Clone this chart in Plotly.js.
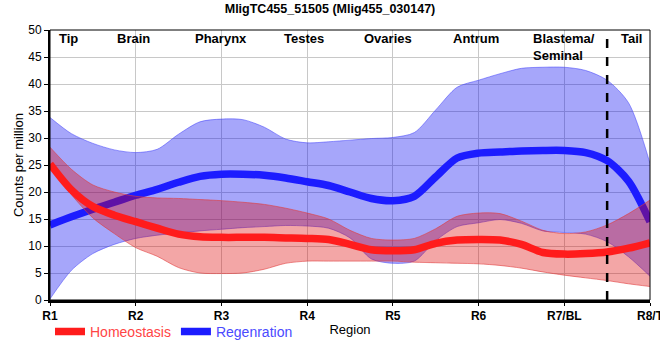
<!DOCTYPE html>
<html>
<head>
<meta charset="utf-8">
<script src="https://cdn.plot.ly/plotly-3.0.1.min.js"></script>
<style>html,body{margin:0;padding:0;background:#fff;}#chart{width:660px;height:360px;}</style>
</head>
<body>
<div id="chart"></div>
<script>
// Region tick positions and labels
const regionPos = [0, 1, 2, 3, 4, 5, 6, 7];
const regionTicks = ['R1', 'R2', 'R3', 'R4', 'R5', 'R6', 'R7/BL', 'R8/T'];
// Tissue names shown along the top
const tissueNames = ['Tip', 'Brain', 'Pharynx', 'Testes', 'Ovaries', 'Antrum', 'Blastema/<br>Seminal', 'Tail'];
const tissuePos = [0.22, 0.97, 1.99, 2.96, 3.94, 4.97, 6.0, 6.78];
const tailBoundary = 6.5;

// Sample positions along the worm (region units)
const samplePos = [0, 0.25, 0.5, 0.75, 1, 1.25, 1.5, 1.75, 2, 2.25, 2.5, 2.75, 3, 3.25, 3.5, 3.75,
                   4, 4.25, 4.5, 4.75, 5, 5.25, 5.5, 5.75, 6, 6.25, 6.5, 6.75, 7];

// Homeostasis (red)
const homeoMean  = [25.2, 20.4, 17.3, 15.7, 14.5, 13.3, 12.2, 11.7, 11.6, 11.6, 11.6, 11.5, 11.4, 11.2, 10.3, 9.3,
                    9.1, 9.3, 10.5, 11.1, 11.2, 11.1, 10.3, 8.8, 8.5, 8.6, 8.9, 9.6, 10.6];
const homeoUpper = [28.3, 24.2, 21.3, 20.0, 19.2, 18.9, 18.8, 18.6, 18.4, 18.1, 17.7, 17.0, 16.1, 15.0, 12.9, 11.4,
                    11.1, 11.4, 13.2, 15.5, 16.1, 16.0, 14.6, 12.9, 12.3, 12.6, 13.9, 16.0, 18.5];
const homeoLower = [24.8, 19.5, 15.2, 12.3, 9.7, 8.1, 6.0, 5.0, 4.9, 5.0, 5.7, 6.8, 7.2, 7.2, 7.2, 7.2,
                    7.2, 7.0, 6.9, 6.8, 6.7, 6.4, 5.9, 5.2, 4.6, 4.1, 3.6, 3.0, 2.5];

// Regeneration (blue)
const regenMean  = [13.9, 15.4, 16.8, 18.1, 19.4, 20.5, 21.8, 22.9, 23.3, 23.3, 23.1, 22.6, 21.9, 21.2, 20.0, 18.8,
                    18.4, 19.2, 22.8, 26.3, 27.2, 27.4, 27.6, 27.7, 27.7, 27.3, 25.8, 22.0, 14.5];
const regenUpper = [33.8, 30.8, 29.0, 27.8, 27.3, 27.9, 30.7, 33.0, 33.5, 33.4, 32.0, 29.8, 29.1, 29.3, 29.6, 29.9,
                    30.1, 31.0, 35.2, 39.4, 40.7, 41.9, 42.9, 43.1, 43.1, 42.5, 40.7, 36.5, 25.3];
const regenLower = [0.2, 5.5, 8.6, 10.3, 11.4, 12.0, 12.4, 12.8, 13.1, 13.4, 13.6, 13.8, 13.7, 13.3, 11.5, 7.6,
                    6.8, 7.2, 11.0, 13.6, 14.3, 14.9, 14.2, 12.8, 12.5, 12.2, 10.8, 8.0, 4.4];

const yTicks = [0, 5, 10, 15, 20, 25, 30, 35, 40, 45, 50];

const FONT = 'Liberation Sans, Arial, sans-serif';
const spl = {shape: 'spline', smoothing: 0.8};

const traces = [
  {x: samplePos, y: regenUpper, mode: 'lines', line: Object.assign({color: 'rgba(70,70,250,0.55)', width: 1}, spl),
   showlegend: false, hoverinfo: 'skip'},
  {x: samplePos, y: regenLower, mode: 'lines', fill: 'tonexty', fillcolor: 'rgba(0,0,240,0.35)',
   line: Object.assign({color: 'rgba(70,70,250,0.55)', width: 1}, spl), showlegend: false, hoverinfo: 'skip'},
  {x: samplePos, y: regenMean, mode: 'lines', name: '<span style="color:#4a4aff">Regenration</span>',
   line: Object.assign({color: '#1c1cff', width: 7.5}, spl)},
  {x: samplePos, y: homeoUpper, mode: 'lines', line: Object.assign({color: 'rgba(225,60,60,0.6)', width: 1}, spl),
   showlegend: false, hoverinfo: 'skip'},
  {x: samplePos, y: homeoLower, mode: 'lines', fill: 'tonexty', fillcolor: 'rgba(220,0,0,0.35)',
   line: Object.assign({color: 'rgba(225,60,60,0.6)', width: 1}, spl), showlegend: false, hoverinfo: 'skip'},
  {x: samplePos, y: homeoMean, mode: 'lines', name: '<span style="color:#ff4545">Homeostasis</span>',
   line: Object.assign({color: '#ff1c1c', width: 7.5}, spl)}
];

const annotations = tissueNames.map((t, i) => ({
  x: tissuePos[i], y: 1, xref: 'x', yref: 'paper', yanchor: 'top', xanchor: 'center', align: 'left',
  text: '<b>' + t + '</b>', showarrow: false, yshift: 1,
  font: {family: FONT, size: 13, color: '#000'}
}));

const layout = {
  width: 660, height: 360,
  margin: {l: 50, r: 10, t: 30, b: 60},
  paper_bgcolor: '#fff', plot_bgcolor: '#fff',
  font: {family: FONT, size: 12, color: '#000'},
  title: {text: '<b>MligTC455_51505 (Mlig455_030147)</b>', x: 0.5, xanchor: 'center', y: 0.975, yanchor: 'middle',
          font: {family: FONT, size: 12.5, color: '#000'}},
  xaxis: {
    range: [0, 7], tickmode: 'array', tickvals: regionPos, ticktext: regionTicks,
    tickfont: {family: FONT, size: 12, color: '#000', weight: 'bold'},
    ticklabeloverflow: 'allow',
    showgrid: true, gridcolor: '#c8c8c8', gridwidth: 1, zeroline: false,
    showline: true, linecolor: '#000', linewidth: 3,
    ticks: 'outside', ticklen: 3, tickcolor: '#000', tickwidth: 1,
    title: {text: 'Region', font: {family: FONT, size: 13, color: '#000'}, standoff: 3}
  },
  yaxis: {
    range: [0, 50], tickmode: 'array', tickvals: yTicks,
    tickfont: {family: FONT, size: 12, color: '#000'},
    showgrid: true, gridcolor: '#c8c8c8', gridwidth: 1, zeroline: false,
    showline: true, linecolor: '#000', linewidth: 2,
    ticks: 'outside', ticklen: 4, tickcolor: '#000', tickwidth: 1,
    title: {text: 'Counts per million', font: {family: FONT, size: 13, color: '#000'}, standoff: 2}
  },
  legend: {orientation: 'h', x: 0, xanchor: 'left', y: -0.118, yanchor: 'middle',
           font: {family: FONT, size: 14}, traceorder: 'reversed', bgcolor: 'rgba(0,0,0,0)',
           itemwidth: 30, tracegroupgap: 0},
  shapes: [
    {type: 'rect', xref: 'paper', yref: 'paper', x0: 0, x1: 1, y0: 0, y1: 1,
     line: {color: '#000', width: 1}, layer: 'above'},
    {type: 'line', xref: 'x', yref: 'paper', x0: tailBoundary, x1: tailBoundary, y0: 0, y1: 1,
     line: {color: '#000', width: 2.5, dash: 'dash'}, layer: 'above'}
  ],
  annotations: annotations,
  showlegend: true
};

Plotly.newPlot('chart', traces, layout, {staticPlot: true, displayModeBar: false});
</script>
</body>
</html>
